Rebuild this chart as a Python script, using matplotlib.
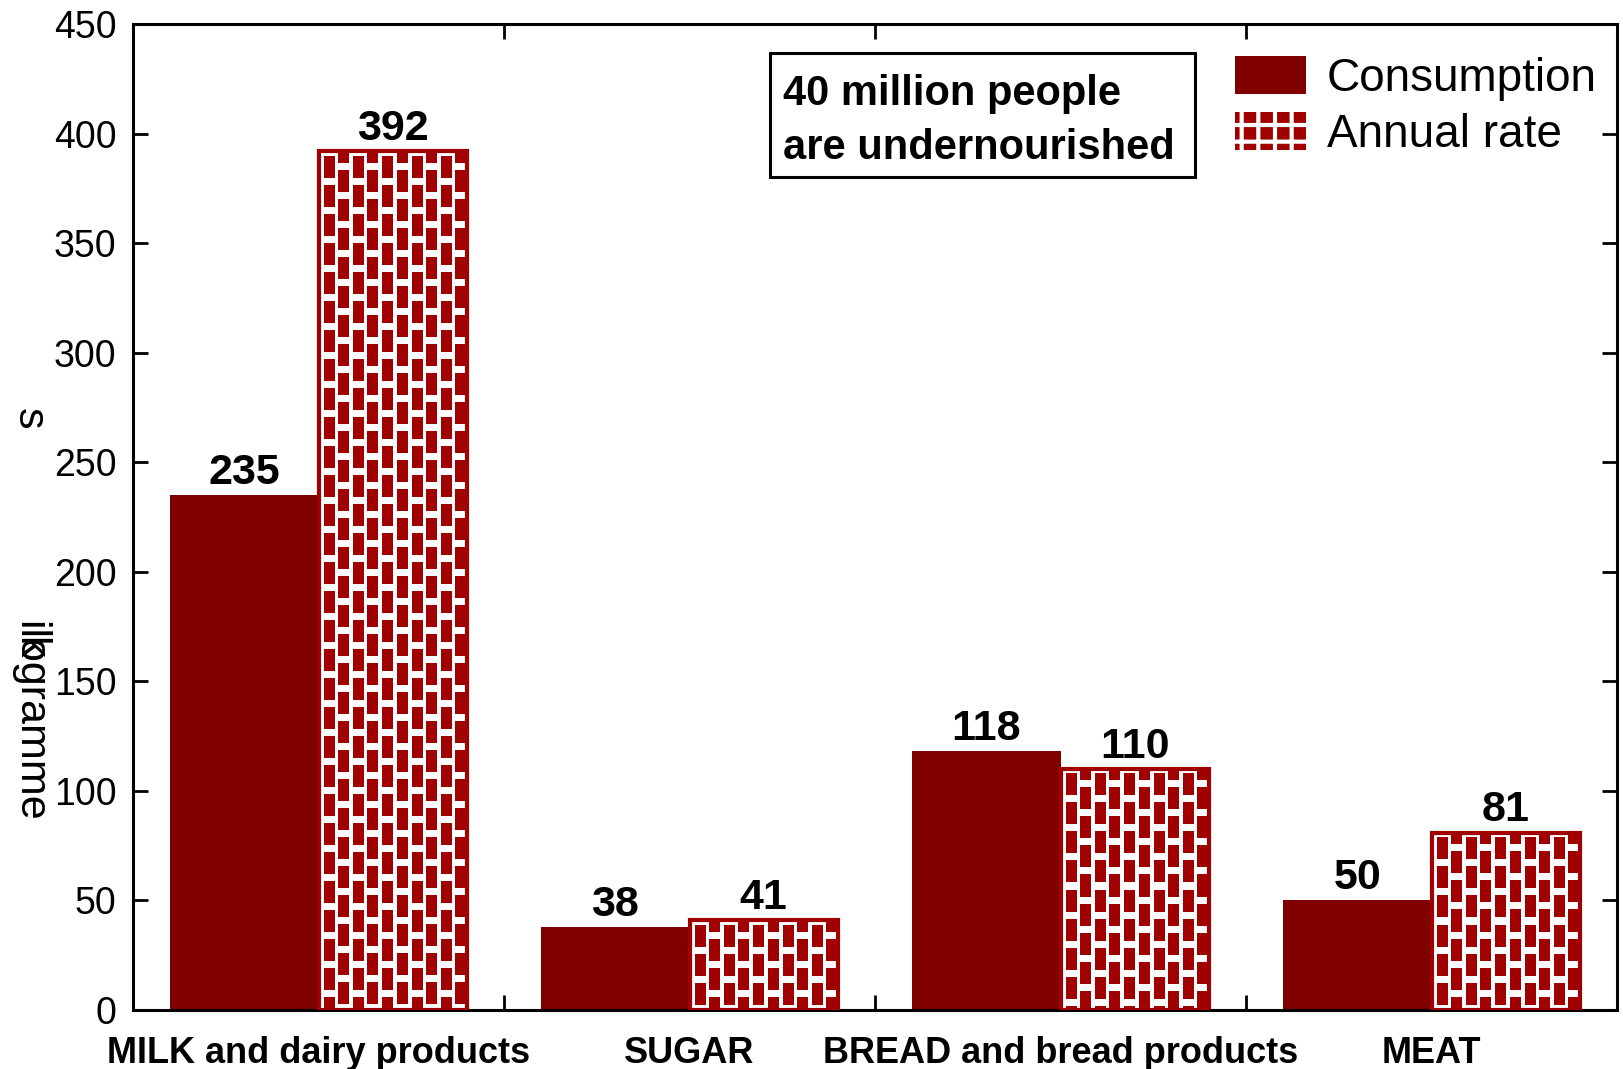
import numpy as np
import matplotlib
matplotlib.use('Agg')
import matplotlib.pyplot as plt
from matplotlib.patches import Rectangle

# ---- data ----
categories = ['MILK and dairy products', 'SUGAR', 'BREAD and bread products', 'MEAT']
consumption = [235, 38, 118, 50]
annual_rate = [392, 41, 110, 81]
y_ticks = [0, 50, 100, 150, 200, 250, 300, 350, 400, 450]

DARK = '#800000'
BRICK = '#a00000'
BAR_W = 0.4

plt.rcParams['font.family'] = ['Liberation Sans', 'DejaVu Sans']
plt.rcParams['hatch.linewidth'] = 3.0

FIG_W, FIG_H, DPI = 1623, 1069, 100
fig = plt.figure(figsize=(FIG_W / DPI, FIG_H / DPI), dpi=DPI)
# axes box in pixels: left 133, right 1617, top 24, bottom 1010
ax = fig.add_axes([133 / FIG_W, 1 - 1010 / FIG_H, (1617 - 133) / FIG_W, (1010 - 24) / FIG_H])

x = np.arange(len(categories))

# pixels per data unit (for the brick texture)
px_x = (1617 - 133) / len(categories)
px_y = (1010 - 24) / 450


def brick_texture(h, w, inset=5.0, pitch=14.5, bw=11, bh=22, period=29):
    """white background with staggered vertical red bricks"""
    yy, xx = np.mgrid[0:h, 0:w] + 0.5
    cx = xx - inset
    col = np.floor(cx / pitch)
    in_x = (cx >= 0) & ((cx - col * pitch) < bw)
    cy = yy - inset - (col % 2) * pitch
    in_y = (cy % period) < bh
    tex = np.ones((h, w, 3))
    tex[in_x & in_y] = np.array([160, 0, 0]) / 255
    return tex


# consumption bars (solid)
ax.bar(x - BAR_W / 2, consumption, BAR_W, color=DARK, linewidth=0, zorder=2)

# annual rate bars (brick pattern inside a red outline)
bars = ax.bar(x + BAR_W / 2, annual_rate, BAR_W, facecolor='white',
              edgecolor='none', linewidth=0, zorder=2)
for b, v in zip(bars, annual_rate):
    w = int(round(b.get_width() * px_x))
    h = int(round(v * px_y))
    im = ax.imshow(brick_texture(h, w),
                   extent=(b.get_x(), b.get_x() + b.get_width(), 0, v),
                   origin='upper', interpolation='nearest', aspect='auto', zorder=2.5)
    im.set_clip_path(b)
ax.bar(x + BAR_W / 2, annual_rate, BAR_W, facecolor='none',
       edgecolor=BRICK, linewidth=3.0, zorder=4)
ax.set_xlim(-0.5, len(categories) - 0.5)
ax.set_ylim(0, 450)

# value labels
for xi, v in zip(x - BAR_W / 2, consumption):
    ax.annotate(f'{v}', (xi, v), xytext=(0, 8), textcoords='offset points',
                ha='center', va='baseline', fontsize=31, fontweight='bold')
for xi, v in zip(x + BAR_W / 2, annual_rate):
    ax.annotate(f'{v}', (xi, v), xytext=(0, 8), textcoords='offset points',
                ha='center', va='baseline', fontsize=31, fontweight='bold')

# axes styling
for sp in ax.spines.values():
    sp.set_linewidth(2.2)
ax.set_yticks(y_ticks)
ax.tick_params(axis='y', direction='in', length=11, width=2, right=True,
               labelsize=27, pad=12)
ax.set_xticks(x)
ax.set_xticklabels(categories, fontsize=26, fontweight='bold')
ax.set_xticks([0.5, 1.5, 2.5], minor=True)
ax.tick_params(axis='x', which='major', length=0, pad=19)
ax.tick_params(axis='x', which='minor', direction='in', length=11, width=2,
               top=True, bottom=True)

# garbled y label as in the original
fig.text(29 / FIG_W, 1 - 419 / FIG_H, 's', rotation=270, ha='center', va='center', fontsize=31)
fig.text(29 / FIG_W, 1 - 721 / FIG_H, 'ilogramme', rotation=270, ha='center', va='center', fontsize=31)
fig.text(29 / FIG_W, 1 - 648 / FIG_H, 'k', rotation=270, ha='center', va='center', fontsize=31)

# annotation box
fig.patches.append(Rectangle((770 / FIG_W, 1 - 177 / FIG_H), 425 / FIG_W, 124 / FIG_H,
                             transform=fig.transFigure, facecolor='white',
                             edgecolor='black', linewidth=2.2, zorder=5))
fig.text(783 / FIG_W, 1 - 105 / FIG_H, '40 million people', ha='left', va='baseline',
         fontsize=30, fontweight='bold', zorder=6)
fig.text(783 / FIG_W, 1 - 159 / FIG_H, 'are undernourished', ha='left', va='baseline',
         fontsize=30, fontweight='bold', zorder=6)

# legend
handles = [Rectangle((0, 0), 1, 1, facecolor=DARK, linewidth=0),
           Rectangle((0, 0), 1, 1, facecolor=BRICK, edgecolor='white', linewidth=0, hatch='+')]
ax.legend(handles, ['Consumption', 'Annual rate'], loc='upper left',
          bbox_to_anchor=((1235 - 133) / (1617 - 133), (1010 - 56) / (1010 - 24)),
          frameon=False, fontsize=33, handlelength=1.55, handleheight=0.9,
          handletextpad=0.45, labelspacing=0.25, borderpad=0, borderaxespad=0)

fig.savefig('out.png', dpi=DPI)
